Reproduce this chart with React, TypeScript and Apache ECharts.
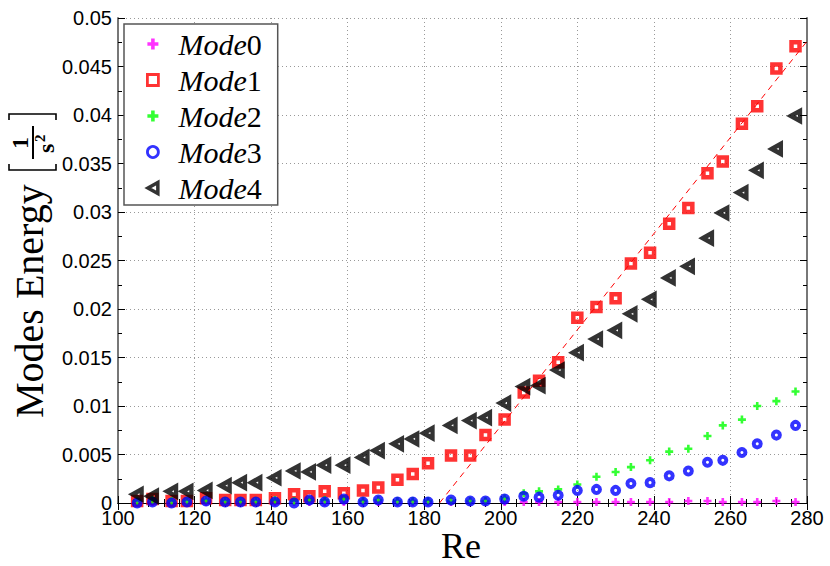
import React, { useEffect, useRef } from "react";
import * as echarts from "echarts";

const re = [105, 109, 114, 118, 123, 128, 132, 136, 141, 146, 150, 154, 159, 164, 168, 173, 177, 181, 187, 192, 196, 201, 206, 210, 215, 220, 225, 230, 234, 239, 244, 249, 254, 258, 263, 267, 272, 277];

const mode0 = [0.0001, 0.0001, 0.0001, 0.0001, 0.0001, 0.0001, 0.0001, 0.0001, 0.0001, 0.0001, 0.0001, 0.0001, 0.0001, 0.0001, 0.0001, 0.0001, 0.0001, 0.0001, 0.0001, 0.0001, 0.0001, 0.0001, 0.0001, 0.0001, 0.0001, 0.0001, 0.0001, 0.0001, 0.0001, 0.0001, 0.0001, 0.0002, 0.0002, 0.0001, 0.0001, 0.0001, 0.0002, 0.0001];
const mode1 = [0.0002, 0.0004, 0.0002, 0.0002, 0.0005, 0.0003, 0.0003, 0.0003, 0.0005, 0.0009, 0.0007, 0.0012, 0.0010, 0.0013, 0.0016, 0.0024, 0.0030, 0.0041, 0.0049, 0.0049, 0.0070, 0.0086, 0.0114, 0.0126, 0.0145, 0.0191, 0.0202, 0.0211, 0.0247, 0.0258, 0.0288, 0.0304, 0.0340, 0.0352, 0.0391, 0.0409, 0.0448, 0.0471];
const mode2 = [0.0002, 0.0003, 0.0002, 0.0002, 0.0003, 0.0002, 0.0002, 0.0002, 0.0003, 0.0002, 0.0003, 0.0003, 0.0004, 0.0002, 0.0003, 0.0002, 0.0002, 0.0002, 0.0002, 0.0002, 0.0002, 0.0005, 0.0010, 0.0012, 0.0014, 0.0019, 0.0027, 0.0032, 0.0037, 0.0044, 0.0053, 0.0056, 0.0069, 0.0080, 0.0086, 0.0100, 0.0105, 0.0115];
const mode3 = [0.0000, 0.0001, 0.0000, 0.0001, 0.0002, 0.0001, 0.0001, 0.0001, 0.0001, 0.0000, 0.0003, 0.0001, 0.0004, 0.0001, 0.0003, 0.0001, 0.0001, 0.0001, 0.0003, 0.0002, 0.0002, 0.0004, 0.0007, 0.0006, 0.0008, 0.0013, 0.0014, 0.0013, 0.0020, 0.0021, 0.0028, 0.0033, 0.0042, 0.0044, 0.0052, 0.0061, 0.0070, 0.0080];
const mode4 = [0.0009, 0.0007, 0.0012, 0.0012, 0.0013, 0.0018, 0.0021, 0.0021, 0.0026, 0.0033, 0.0032, 0.0039, 0.0039, 0.0047, 0.0054, 0.0061, 0.0066, 0.0072, 0.0080, 0.0085, 0.0088, 0.0103, 0.0120, 0.0121, 0.0137, 0.0155, 0.0169, 0.0178, 0.0195, 0.0210, 0.0232, 0.0244, 0.0273, 0.0299, 0.0320, 0.0343, 0.0365, 0.0399];

const fitRe = [184, 280];
const fitE = [0, 0.0476];

const seriesNames = ["Mode0", "Mode1", "Mode2", "Mode3", "Mode4"];
const xTicks = { min: 100, max: 280, step: 20 };
const yTicks = { min: 0, max: 0.05, step: 0.005 };

const PLUS = "path://M2.7,0H5.3V2.7H8V5.3H5.3V8H2.7V5.3H0V2.7H2.7Z";
const TRI_LEFT = "path://M0,5L9,0L9,10Z";

function pairs(ys: number[]) {
  return re.map((x, i) => [x, ys[i]]);
}

export default function App() {
  const ref = useRef<HTMLDivElement>(null);
  useEffect(() => {
    if (!ref.current) return;
    const chart = echarts.init(ref.current, undefined, { renderer: "svg" });
    const tickFont = { fontFamily: "Liberation Sans", fontSize: 20, color: "#000" };
    const baseAxis = {
      type: "value" as const,
      axisTick: { show: true, inside: true, length: 7, lineStyle: { color: "#000", width: 1 } },
      minorTick: { show: true, length: 4, lineStyle: { color: "#000", width: 1 } },
    };
    const legendBorder = [0, 2.8, 0, 2.8, 3.5];
    const option: any = {
      animation: false,
      backgroundColor: "#fff",
      grid: { left: 118, right: 23, top: 18, bottom: 63, containLabel: false },
      xAxis: [
        {
          ...baseAxis,
          position: "bottom",
          min: xTicks.min,
          max: xTicks.max,
          interval: xTicks.step,
          minorTick: { ...baseAxis.minorTick, splitNumber: 5 },
          axisLine: { show: true, lineStyle: { color: "#000", width: 1 } },
          axisLabel: { ...tickFont, margin: 5 },
          splitLine: { show: true, lineStyle: { color: "#999", width: 1, type: [1, 3] } },
        },
        {
          ...baseAxis,
          position: "top",
          min: xTicks.min,
          max: xTicks.max,
          interval: xTicks.step,
          minorTick: { ...baseAxis.minorTick, splitNumber: 5 },
          axisLine: { show: true, lineStyle: { color: "#000", width: 1 } },
          axisLabel: { show: false },
          splitLine: { show: false },
        },
      ],
      yAxis: [
        {
          ...baseAxis,
          position: "left",
          min: yTicks.min,
          max: yTicks.max,
          interval: yTicks.step,
          minorTick: { ...baseAxis.minorTick, splitNumber: 2 },
          axisLine: { show: true, lineStyle: { color: "#777", width: 2 } },
          axisLabel: {
            ...tickFont,
            margin: 6,
            formatter: (v: number) => String(parseFloat(v.toFixed(3))),
          },
          splitLine: { show: true, lineStyle: { color: "#999", width: 1, type: [1, 3] } },
        },
        {
          ...baseAxis,
          position: "right",
          min: yTicks.min,
          max: yTicks.max,
          interval: yTicks.step,
          minorTick: { ...baseAxis.minorTick, splitNumber: 2 },
          axisLine: { show: true, lineStyle: { color: "#777", width: 2 } },
          axisLabel: { show: false },
          splitLine: { show: false },
        },
      ],
      legend: {
        data: seriesNames.map((n, i) => {
          const item: any = { name: n };
          if (legendBorder[i]) item.itemStyle = { borderWidth: legendBorder[i] };
          return item;
        }),
        orient: "vertical",
        left: 124,
        top: 24,
        padding: [5, 16, 2, 22],
        itemGap: 6,
        itemWidth: 11,
        itemHeight: 11,
        backgroundColor: "#fff",
        borderColor: "#555",
        borderWidth: 1.5,
        borderRadius: 0,
        formatter: (name: string) => `{sp| }{i|${name.slice(0, 4)}}{n|${name.slice(4)}}`,
        textStyle: {
          fontSize: 30,
          lineHeight: 30,
          color: "#000",
          rich: {
            sp: { width: 15, fontSize: 30, lineHeight: 30 },
            i: { fontFamily: "Liberation Serif", fontStyle: "italic", fontSize: 30, lineHeight: 30, color: "#000" },
            n: { fontFamily: "Liberation Serif", fontSize: 30, lineHeight: 30, color: "#000" },
          },
        },
      },
      series: [
        {
          name: "Mode0",
          type: "scatter",
          data: pairs(mode0),
          symbol: PLUS,
          symbolSize: 8,
          itemStyle: { color: "#ff00ff" },
        },
        {
          name: "Mode1",
          type: "scatter",
          data: pairs(mode1),
          symbol: "rect",
          symbolSize: 8,
          itemStyle: { color: "rgba(0,0,0,0)", borderColor: "#ff0000", borderWidth: 4.5 },
        },
        {
          name: "Mode2",
          type: "scatter",
          data: pairs(mode2),
          symbol: PLUS,
          symbolSize: 8,
          itemStyle: { color: "#00ff00" },
        },
        {
          name: "Mode3",
          type: "scatter",
          data: pairs(mode3),
          symbol: "circle",
          symbolSize: 7,
          itemStyle: { color: "rgba(0,0,0,0)", borderColor: "#0000ff", borderWidth: 4 },
        },
        {
          name: "Mode4",
          type: "scatter",
          data: pairs(mode4),
          symbol: TRI_LEFT,
          symbolSize: [9, 10],
          itemStyle: { color: "rgba(0,0,0,0)", borderColor: "#000", borderWidth: 4.5 },
        },
        {
          name: "fit",
          type: "line",
          data: fitRe.map((x, i) => [x, fitE[i]]),
          symbol: "none",
          silent: true,
          lineStyle: { color: "#ff0000", width: 1, type: [6, 5] },
        },
      ],
      graphic: [
        {
          type: "text",
          left: 441,
          top: 528,
          style: { text: "Re", fontFamily: "Liberation Serif", fontSize: 36, fill: "#000" },
        },
        {
          type: "group",
          x: 0,
          y: 418,
          rotation: Math.PI / 2,
          children: [
            {
              type: "text",
              x: 0,
              y: 29.5,
              style: {
                text: "Modes Energy",
                fontFamily: "Liberation Serif",
                fontSize: 40,
                fill: "#000",
                align: "left",
                verticalAlign: "middle",
              },
            },
            {
              type: "polyline",
              shape: { points: [[254, 9], [248, 9], [248, 56], [254, 56]] },
              style: { stroke: "#000", lineWidth: 1.6, fill: "none" },
            },
            {
              type: "text",
              x: 275,
              y: 20,
              style: {
                text: "1",
                fontFamily: "Liberation Serif",
                fontWeight: "bold",
                fontSize: 24,
                fill: "#000",
                align: "center",
                verticalAlign: "middle",
              },
            },
            {
              type: "line",
              shape: { x1: 259, y1: 33, x2: 292, y2: 33 },
              style: { stroke: "#000", lineWidth: 2 },
            },
            {
              type: "text",
              x: 265,
              y: 46,
              style: {
                text: "s",
                fontFamily: "Liberation Serif",
                fontWeight: "bold",
                fontSize: 24,
                fill: "#000",
                align: "left",
                verticalAlign: "middle",
              },
            },
            {
              type: "text",
              x: 276,
              y: 40,
              style: {
                text: "2",
                fontFamily: "Liberation Serif",
                fontWeight: "bold",
                fontSize: 15,
                fill: "#000",
                align: "left",
                verticalAlign: "middle",
              },
            },
            {
              type: "polyline",
              shape: { points: [[298, 9], [304, 9], [304, 56], [298, 56]] },
              style: { stroke: "#000", lineWidth: 1.6, fill: "none" },
            },
          ],
        },
      ],
    };
    chart.setOption(option);
    return () => chart.dispose();
  }, []);
  return (
    <div
      ref={ref}
      style={{ position: "fixed", left: 0, top: 0, width: 830, height: 566, background: "#fff" }}
    />
  );
}
